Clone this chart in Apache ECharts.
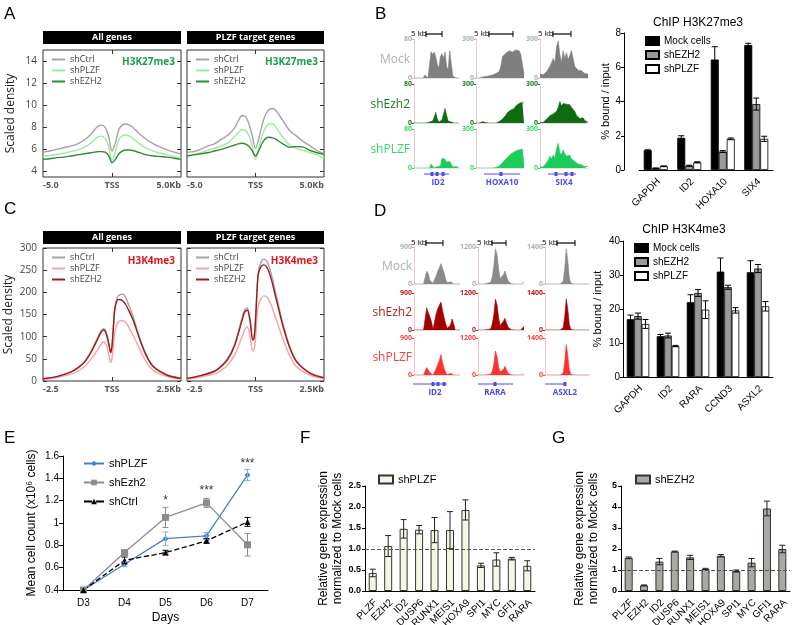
<!DOCTYPE html>
<html>
<head>
<meta charset="utf-8">
<script src="https://cdn.jsdelivr.net/npm/echarts@6.0.0/dist/echarts.min.js"></script>
<style>
html,body{margin:0;padding:0;background:#fff;}
#chart{width:792px;height:625px;}
</style>
</head>
<body>
<div id="chart"></div>
<script>
// ================= DATA =================
// Panel A: H3K27me3 metagene profiles (kb from TSS)
const profXA = [-5,-4.5,-4,-3.5,-3,-2.5,-2,-1.5,-1.25,-1,-0.75,-0.5,-0.25,0,0.25,0.5,0.75,1,1.25,1.5,2,2.5,3,3.5,4,4.5,5];
const aAllCtrl = [5.75,5.85,6.0,6.15,6.3,6.5,6.85,7.4,7.8,8.1,8.2,8.0,7.2,5.85,6.6,7.8,8.2,8.3,8.2,8.0,7.4,6.9,6.5,6.2,5.95,5.75,5.6];
const aAllPlzf = [5.4,5.45,5.55,5.65,5.8,5.95,6.2,6.6,6.9,7.15,7.2,7.0,6.3,5.0,5.8,6.9,7.25,7.3,7.2,7.0,6.5,6.1,5.85,5.65,5.5,5.35,5.25];
const aAllEzh2 = [5.1,5.15,5.25,5.3,5.4,5.5,5.6,5.7,5.75,5.8,5.8,5.75,5.45,4.8,5.1,5.6,5.85,5.95,5.95,5.9,5.7,5.5,5.4,5.35,5.3,5.2,5.1];
const aTgtCtrl = [5.75,5.8,6.0,6.3,6.5,6.9,7.3,8.0,8.6,9.05,9.0,8.4,7.3,6.1,7.0,8.3,9.2,9.6,9.7,9.5,8.6,7.7,7.2,6.7,6.3,5.9,5.6];
const aTgtPlzf = [5.45,5.55,5.7,5.9,6.1,6.3,6.6,7.2,7.5,7.8,7.75,7.3,6.4,5.1,6.2,7.3,8.0,8.3,8.3,8.0,7.1,6.4,6.1,5.9,5.7,5.5,5.2];
const aTgtEzh2 = [5.4,5.5,5.6,5.7,5.85,6.0,6.2,6.4,6.5,6.55,6.5,6.3,5.9,5.4,5.9,6.6,7.0,7.1,7.05,6.9,6.5,6.2,6.25,6.2,5.9,5.7,5.55];
const aTicksY = [4,6,8,10,12,14];

// Panel C: H3K4me3 metagene profiles
const profXC = [-2.5,-2,-1.5,-1.25,-1,-0.75,-0.5,-0.4,-0.3,-0.2,-0.1,-0.05,0,0.05,0.1,0.2,0.3,0.4,0.5,0.6,0.75,1,1.25,1.5,2,2.5];
const cAllCtrl = [5,10,20,30,44,68,100,113,118,108,80,66,80,125,165,190,195,196,188,172,148,98,58,33,14,6];
const cAllPlzf = [4,8,15,22,32,50,72,83,88,80,55,42,50,80,110,130,136,136,132,122,105,72,42,24,10,4];
const cAllEzh2 = [5,10,20,29,42,66,97,110,115,105,78,64,78,120,160,183,184,180,172,160,140,95,56,32,13,6];
const cTgtCtrl = [6,12,22,34,52,85,140,160,165,140,95,100,140,200,245,268,275,272,258,235,195,130,78,45,18,8];
const cTgtPlzf = [4,9,16,24,37,60,98,115,122,100,68,72,95,140,170,186,192,190,182,167,140,95,57,32,13,5];
const cTgtEzh2 = [6,12,22,33,50,82,135,155,160,136,92,97,135,195,240,258,262,258,245,224,186,124,75,43,17,7];
const cTicksY = [0,50,100,150,200,250,300];

// Panel B: H3K27me3 tracks (ID2 0-80, HOXA10 0-300, SIX4 0-300)
const bTrackMax = [80,300,300];
const bGeneNames = ['ID2','HOXA10','SIX4'];
const bMockID2 = [0,0,0,0,0,0,0,6,8,0,4,54,48,53,44,28,20,44,50,40,53,24,16,56,60,4,0,0,0,0];
const bEzhID2 = [0,0,0,0,0,0,0,0,0,0,2,4,4,12,22,8,2,4,6,10,30,16,4,6,2,2,0,1,0,0];
const bPlzfID2 = [0,0,0,0,0,0,0,0,0,0,0,8,4,0,1,3,0,4,20,16,18,12,8,14,8,2,0,3,1,0];
const bMockHOXA10 = [0,0,0,5,8,10,12,14,17,20,24,28,34,40,50,90,165,180,190,195,210,225,200,190,216,204,210,185,195,30];
const bEzhHOXA10 = [0,0,0,6,10,6,3,0,0,0,0,0,0,3,10,20,30,40,60,80,90,100,90,110,130,120,150,140,160,150];
const bPlzfHOXA10 = [0,0,0,0,0,0,0,0,0,0,0,0,3,8,15,25,40,55,70,85,95,105,115,125,130,135,140,150,145,20];
const bMockSIX4 = [30,15,25,40,50,60,90,105,150,120,240,285,180,120,210,150,195,140,130,210,150,90,75,60,45,55,40,35,50,30];
const bEzhSIX4 = [3,0,5,15,30,45,55,60,70,80,90,120,165,130,150,140,145,130,140,120,110,90,60,45,35,30,40,20,10,5];
const bPlzfSIX4 = [5,0,10,25,40,60,90,70,100,80,150,190,120,100,140,110,90,80,100,70,60,50,40,30,20,25,15,10,20,15];

// Panel B: ChIP H3K27me3 bars
const bGenes = ['GAPDH','ID2','HOXA10','SIX4'];
const bMock = [1.15,1.88,6.45,7.3];
const bMockErr = [0.03,0.12,0.75,0.1];
const bEzh2 = [0.1,0.25,1.08,3.85];
const bEzh2Err = [0.02,0.03,0.06,0.35];
const bPlzf = [0.22,0.45,1.82,1.82];
const bPlzfErr = [0.02,0.03,0.05,0.15];

// Panel D: H3K4me3 tracks (ID2 0-900, RARA 0-1200, ASXL2 0-1400)
const dTrackMax = [900,1200,1400];
const dGeneNames = ['ID2','RARA','ASXL2'];
const dMockID2 = [0,0,0,0,0,0,0,45,315,250,90,110,20,45,200,315,400,495,380,270,110,30,0,55,45,0,0,0,0,0];
const dEzhID2 = [0,0,0,0,0,0,0,40,540,420,330,200,20,60,400,520,600,680,480,300,150,40,0,120,270,150,0,0,0,0];
const dPlzfID2 = [0,0,0,0,0,0,0,20,180,120,60,50,0,20,150,260,350,500,300,160,60,10,0,40,30,0,0,0,0,0];
const dMockRARA = [0,0,0,0,0,0,24,24,60,240,600,1140,960,480,180,180,300,420,240,96,36,12,0,0,0,0,0,0,24,60];
const dEzhRARA = [0,0,0,0,0,0,20,40,30,200,500,1000,820,400,150,150,280,380,220,90,30,10,0,0,0,0,0,0,60,120];
const dPlzfRARA = [0,0,0,0,0,0,10,20,30,120,350,780,600,250,100,100,180,280,160,60,20,5,0,0,0,0,0,0,20,40];
const dMockASXL2 = [0,0,0,0,0,0,0,0,0,0,0,30,100,600,1330,900,250,40,10,0,0,0,0,0,0,0,0,0,0,0];
const dEzhASXL2 = [0,0,0,0,0,0,0,0,0,0,0,25,90,520,1180,800,220,30,8,0,0,0,0,0,0,0,0,0,0,0];
const dPlzfASXL2 = [0,0,0,0,0,0,0,0,0,0,0,20,80,500,1150,760,200,30,5,0,0,0,0,0,0,0,0,0,0,0];

// Panel D: ChIP H3K4me3 bars
const dGenes = ['GAPDH','ID2','RARA','CCND3','ASXL2'];
const dMock = [17,12,22,31,30.8];
const dMockErr = [1.2,0.5,2.2,4,3.4];
const dEzh2 = [17.9,12.2,24.7,26.4,31.9];
const dEzh2Err = [0.9,0.7,1.0,0.6,1.2];
const dPlzf = [15.6,9.1,19.8,19.6,20.8];
const dPlzfErr = [1.3,0.2,2.6,0.8,1.4];

// Panel E: cell counts
const eDays = ['D3','D4','D5','D6','D7'];
const ePlzf = [0.4,0.63,0.86,0.885,1.43];
const ePlzfErr = [0,0.02,0.06,0.03,0.05];
const eEzh2 = [0.4,0.735,1.05,1.18,0.805];
const eEzh2Err = [0,0.02,0.09,0.04,0.1];
const eCtrl = [0.4,0.665,0.735,0.84,1.01];
const eCtrlErr = [0,0.03,0.02,0.02,0.04];
const eSigDays = ['D5','D6','D7'];
const eSigY = [1.2,1.29,1.53];
const eSigText = ['*','***','***'];

// Panels F, G: relative expression
const fgGenes = ['PLZF','EZH2','ID2','DUSP6','RUNX1','MEIS1','HOXA9','SPI1','MYC','GFI1','RARA'];
const fPlzf = [0.43,1.07,1.48,1.46,1.45,1.45,1.93,0.61,0.75,0.77,0.6];
const fPlzfErr = [0.09,0.25,0.22,0.1,0.3,0.44,0.24,0.05,0.16,0.03,0.12];
const gEzh2 = [1.58,0.27,1.4,1.88,1.6,1.05,1.68,0.95,1.35,3.93,2.0];
const gEzh2Err = [0.04,0.02,0.15,0.02,0.1,0.03,0.06,0.05,0.2,0.35,0.18];

// ================= BUILD =================
const grids=[], xAxes=[], yAxes=[], series=[], legends=[], graphics=[];
const extraX=[], extraY=[], rotCats=[];
function addGrid(g,xa,ya){const i=grids.length;grids.push(g);xa.gridIndex=i;ya.gridIndex=i;xAxes.push(xa);yAxes.push(ya);return i;}
function T(x,y,text,st){graphics.push({type:'text',x:x,y:y,silent:true,style:Object.assign({text:text,fill:'#000',fontSize:12,fontFamily:'Liberation Sans',align:'left',verticalAlign:'middle'},st||{})});}
function R(x,y,w,h,fill,stroke){graphics.push({type:'rect',silent:true,shape:{x:x,y:y,width:w,height:h},style:{fill:fill,stroke:stroke||null,lineWidth:1}});}
function L(x1,y1,x2,y2,c,w){graphics.push({type:'line',silent:true,shape:{x1:x1,y1:y1,x2:x2,y2:y2},style:{stroke:c,lineWidth:w||1}});}
const strip = n => n.split('|')[1];

function errSeries(gi, vals, errs, off, cap, color, lw){
  return {type:'custom', xAxisIndex:gi, yAxisIndex:gi, silent:true, z:6,
    data: vals.map((v,i)=>[i,v,errs[i]]),
    renderItem:(p,api)=>{
      const i=api.value(0),v=api.value(1),e=api.value(2);
      if(!e) return null;
      const a=api.coord([i,v+e]), b=api.coord([i,v-e]); const x=a[0]+off;
      const st={stroke:color,lineWidth:lw||1};
      return {type:'group',children:[
        {type:'line',shape:{x1:x,y1:a[1],x2:x,y2:b[1]},style:st},
        {type:'line',shape:{x1:x-cap,y1:a[1],x2:x+cap,y2:a[1]},style:st},
        {type:'line',shape:{x1:x-cap,y1:b[1],x2:x+cap,y2:b[1]},style:st}]};
    }};
}

// ---------- profile panels (A, C) ----------
function profPanel(o){
  const gi = addGrid(
    {left:o.left, top:o.top, width:o.width, height:o.height, show:true, borderColor:'#333', borderWidth:1},
    {type:'value', min:o.xMin, max:o.xMax, axisLine:{show:false, onZero:false}, splitLine:{show:false},
     axisTick:{show:true, inside:true, length:4, customValues:[0], lineStyle:{color:'#333'}},
     axisLabel:{customValues:[o.xMin,0,o.xMax], formatter:v=>v===0?'TSS':(v<0?o.xMinLbl:o.xMaxLbl),
       alignMinLabel:'left', alignMaxLabel:'right', fontSize:9, fontWeight:'bold', color:'#555', fontFamily:'Open Sans', margin:4}},
    {type:'value', min:o.yMin, max:o.yMax, axisLine:{show:false, onZero:false}, splitLine:{show:false},
     axisTick:{show:true, inside:true, length:4, customValues:o.yTicks, lineStyle:{color:'#333'}},
     axisLabel:{show:o.showY, customValues:o.yTicks, fontSize:10, color:'#444', fontFamily:'Open Sans', margin:6},
     name:o.showY?'Scaled density':'', nameLocation:'middle', nameGap:o.nameGap||26,
     nameTextStyle:{fontSize:12, color:'#222', fontFamily:'Open Sans'}});
  extraX.push({gridIndex:gi, type:'value', position:'top', min:o.xMin, max:o.xMax, axisLine:{show:false, onZero:false}, splitLine:{show:false},
     axisLabel:{show:false}, axisTick:{show:true, inside:true, length:4, customValues:[0], lineStyle:{color:'#333'}}});
  extraY.push({gridIndex:gi, type:'value', position:'right', min:o.yMin, max:o.yMax, axisLine:{show:false, onZero:false}, splitLine:{show:false},
     axisLabel:{show:false}, axisTick:{show:true, inside:true, length:4, customValues:o.yTicks, lineStyle:{color:'#333'}}});
  o.curves.forEach((ys,k)=>{
    series.push({type:'line', name:o.key+'|'+o.names[k], xAxisIndex:gi, yAxisIndex:gi,
      data:o.xs.map((x,i)=>[x,ys[i]]), symbol:'none', smooth:0.3,
      lineStyle:{color:o.colors[k], width:1.4}, itemStyle:{color:o.colors[k]}, z:3+k});
  });
  legends.push({orient:'vertical', left:o.left+9, top:o.legTop, icon:'rect', itemWidth:13, itemHeight:2, itemGap:0, padding:0,
    selectedMode:false, data:o.names.map(n=>o.key+'|'+n), formatter:strip,
    textStyle:{fontSize:9, color:'#444', fontFamily:'Open Sans', lineHeight:11}});
  T(o.left+o.width-6, o.markY, o.mark, {fill:o.markColor, fontWeight:'bold', fontSize:10, fontFamily:'Open Sans', align:'right'});
}
const namesProf = ['shCtrl','shPLZF','shEZH2'];
const colA = ['#a3a3a3','#9fe89f','#2f8a35'];
const colC = ['#a3a3a3','#f7a3a3','#9e1a1a'];
profPanel({key:'A1', left:43, top:50, width:138, height:127, xs:profXA, curves:[aAllCtrl,aAllPlzf,aAllEzh2], names:namesProf, colors:colA,
  xMin:-5, xMax:5, xMinLbl:'-5.0', xMaxLbl:'5.0Kb', yMin:3.5, yMax:15, yTicks:aTicksY, showY:true, legTop:54, mark:'H3K27me3', markColor:'#1f9e45', markY:62});
profPanel({key:'A2', left:187, top:50, width:137, height:127, xs:profXA, curves:[aTgtCtrl,aTgtPlzf,aTgtEzh2], names:namesProf, colors:colA,
  xMin:-5, xMax:5, xMinLbl:'-5.0', xMaxLbl:'5.0Kb', yMin:3.5, yMax:15, yTicks:aTicksY, showY:false, legTop:54, mark:'H3K27me3', markColor:'#1f9e45', markY:62});
profPanel({key:'C1', left:43, top:248, width:138, height:133, xs:profXC, curves:[cAllCtrl,cAllPlzf,cAllEzh2], names:namesProf, colors:colC,
  xMin:-2.5, xMax:2.5, xMinLbl:'-2.5', xMaxLbl:'2.5Kb', yMin:0, yMax:300, yTicks:cTicksY, showY:true, nameGap:28, legTop:252, mark:'H3K4me3', markColor:'#e0141c', markY:261});
profPanel({key:'C2', left:187, top:248, width:137, height:133, xs:profXC, curves:[cTgtCtrl,cTgtPlzf,cTgtEzh2], names:namesProf, colors:colC,
  xMin:-2.5, xMax:2.5, xMinLbl:'-2.5', xMaxLbl:'2.5Kb', yMin:0, yMax:300, yTicks:cTicksY, showY:false, legTop:252, mark:'H3K4me3', markColor:'#e0141c', markY:261});
// strip headers
[[43,31,138,'All genes'],[187,31,137,'PLZF target genes'],[43,231,138,'All genes'],[187,231,137,'PLZF target genes']].forEach(s=>{
  R(s[0],s[1],s[2],13,'#000'); T(s[0]+s[2]/2,s[1]+6.5,s[3],{fill:'#fff',fontWeight:'bold',fontSize:9,fontFamily:'Open Sans',align:'center'});
});

// ---------- track panels (B, D) ----------
function trackPanel(o){
  o.rowTops.forEach((t,r)=>o.cols.forEach((l,c)=>{
    const gi = addGrid({left:l, top:t, width:o.colW[c], height:o.rowH},
      {type:'value', min:0, max:29, axisLine:{show:true, onZero:false, lineStyle:{color:'#e2e2e2', width:1}}, axisTick:{show:false}, axisLabel:{show:false}, splitLine:{show:false}},
      {type:'value', min:0, max:o.maxes[c], interval:o.maxes[c], axisLine:{show:true, onZero:false, lineStyle:{color:'#f6c4c4', width:1}},
       axisTick:{show:true, length:2, lineStyle:{color:o.lblColors[r]}},
       axisLabel:{fontSize:7, fontWeight:'bold', color:o.lblColors[r], margin:2, fontFamily:'Open Sans', formatter:v=>String(v)}, splitLine:{show:false}});
    series.push({type:'line', xAxisIndex:gi, yAxisIndex:gi, data:o.data[r][c].map((v,i)=>[i,v]), symbol:'none', silent:true,
      lineStyle:{width:0.6, color:o.fills[r]}, areaStyle:{color:o.fills[r], opacity:1}, z:2});
  }));
  o.rowNames.forEach((n,r)=>T(o.rowLblX, o.rowTops[r]+o.rowLblDy, n, {fill:o.lblColors[r], fontSize:12, fontFamily:'Open Sans', align:'right'}));
}
trackPanel({cols:[414,476,540], colW:[45,48,48], rowTops:[39,84,129], rowH:39, maxes:bTrackMax,
  data:[[bMockID2,bMockHOXA10,bMockSIX4],[bEzhID2,bEzhHOXA10,bEzhSIX4],[bPlzfID2,bPlzfHOXA10,bPlzfSIX4]],
  fills:['#7f7f7f','#0f6b0f','#1ccc5a'], lblColors:['#b0b0b0','#1f7a1f','#35d868'], rowNames:['Mock','shEzh2','shPLZF'], rowLblX:410, rowLblDy:21});
trackPanel({cols:[414,478,545], colW:[46,46,44], rowTops:[247,293,338], rowH:37, maxes:dTrackMax,
  data:[[dMockID2,dMockRARA,dMockASXL2],[dEzhID2,dEzhRARA,dEzhASXL2],[dPlzfID2,dPlzfRARA,dPlzfASXL2]],
  fills:['#8a8a8a','#a50000','#ff3030'], lblColors:['#b0b0b0','#b02020','#ff4040'], rowNames:['Mock','shEzh2','shPLZF'], rowLblX:412, rowLblDy:20});
// scale bars
function scaleBar(tx,y,x1,x2){T(tx,y,'5 kb',{fontSize:8,fontFamily:'Open Sans',fill:'#000'});L(x1,y,x2,y,'#000',1.2);L(x1,y-3,x1,y+3,'#000',1);L(x2,y-3,x2,y+3,'#000',1);}
scaleBar(411,34,426,442); scaleBar(474,34,489,513); scaleBar(538,34,553,571);
scaleBar(411,243,426,443); scaleBar(477,243,492,506); scaleBar(542,243,557,575);
// gene models
const geneBlue = '#4a4ae8';
function geneModel(x1,x2,y,boxes,label,lx,ly){L(x1,y,x2,y,geneBlue,1);boxes.forEach(b=>R(b-1.5,y-2,3,4,geneBlue));T(lx,ly,label,{fill:geneBlue,fontSize:8,fontWeight:'bold',fontFamily:'Open Sans',align:'center'});}
geneModel(424,449,174,[432,437,443],bGeneNames[0],438,183);
geneModel(484,520,174,[501],bGeneNames[1],502,183);
geneModel(548,576,174,[556,566,572],bGeneNames[2],564,183);
geneModel(413,447,384,[433,438,444],dGeneNames[0],435,393);
geneModel(478,513,384,[495],dGeneNames[1],495,393);
geneModel(545,566,384,[565],dGeneNames[2],565,393);

// ---------- grouped ChIP bars (B, D) ----------
function groupedBar(o){
  const gi = addGrid({left:o.left, top:o.top, width:o.width, height:o.height},
    {type:'category', data:o.cats, axisLine:{onZero:false, lineStyle:{color:'#000'}}, axisTick:{alignWithLabel:true, length:3, lineStyle:{color:'#000'}},
     axisLabel:{show:false}},
    {type:'value', min:0, max:o.yMax, interval:o.yInt, offset:o.yOffset||0, axisLine:{show:true, onZero:false, lineStyle:{color:'#000'}},
     axisTick:{show:true, length:3, lineStyle:{color:'#000'}}, axisLabel:{fontSize:10, color:'#000', margin:3, fontFamily:'Liberation Sans'},
     splitLine:{show:false}, name:'% bound / input', nameLocation:'middle', nameGap:o.nameGap,
     nameTextStyle:{fontSize:11, color:'#000', fontFamily:'Liberation Sans'}});
  rotCats.push([gi, o.cats]);
  const fills=['#000','#9a9a9a','#fff'];
  o.vals.forEach((vals,k)=>series.push({type:'bar', name:o.key+'|'+o.names[k], xAxisIndex:gi, yAxisIndex:gi, data:vals,
    barWidth:o.bw, barGap:'0%', itemStyle:{color:fills[k], borderColor:'#000', borderWidth:0.8}}));
  o.vals.forEach((vals,k)=>series.push(errSeries(gi, vals, o.errs[k], (k-1)*o.bw, 3, '#000', 1)));
  legends.push({orient:'vertical', left:o.legLeft, top:o.legTop, icon:'rect', itemWidth:13, itemHeight:8, itemGap:2, padding:0, selectedMode:false,
    data:o.names.map(n=>o.key+'|'+n), formatter:strip, textStyle:{fontSize:10, color:'#000', fontFamily:'Liberation Sans', lineHeight:12}});
  T(o.titleX, o.titleY, o.title, {fontSize:12, align:'center', fontFamily:'Liberation Sans'});
}
const chipNames = ['Mock cells','shEZH2','shPLZF'];
groupedBar({key:'BB', left:639, top:33, width:134, height:137, yOffset:15, cats:bGenes, yMax:8, yInt:2, nameGap:8, bw:8,
  vals:[bMock,bEzh2,bPlzf], errs:[bMockErr,bEzh2Err,bPlzfErr], names:chipNames, legLeft:645, legTop:35, title:'ChIP H3K27me3', titleX:698, titleY:23});
groupedBar({key:'DB', left:623, top:241, width:150, height:136, cats:dGenes, yMax:40, yInt:10, nameGap:20, bw:7.5,
  vals:[dMock,dEzh2,dPlzf], errs:[dMockErr,dEzh2Err,dPlzfErr], names:chipNames, legLeft:634, legTop:242, title:'ChIP H3K4me3', titleX:684, titleY:230});

// ---------- E: growth curves ----------
const eGi = addGrid({left:63, top:456, width:205, height:135},
  {type:'category', data:eDays, axisLine:{onZero:false, lineStyle:{color:'#000'}}, axisTick:{length:4, lineStyle:{color:'#000'}},
   axisLabel:{fontSize:10, color:'#000', margin:8, fontFamily:'Liberation Sans'},
   name:'Days', nameLocation:'middle', nameGap:22, nameTextStyle:{fontSize:12, color:'#000', fontFamily:'Liberation Sans'}},
  {type:'value', min:0.4, max:1.6, interval:0.2, axisLine:{show:true, onZero:false, lineStyle:{color:'#000'}}, axisTick:{show:true, length:4, lineStyle:{color:'#000'}},
   axisLabel:{fontSize:10, color:'#000', margin:4, fontFamily:'Liberation Sans', formatter:v=>String(Math.round(v*10)/10)}, splitLine:{show:false},
   name:'Mean cell count (x10\u2076 cells)', nameLocation:'middle', nameGap:25, nameTextStyle:{fontSize:12, color:'#000', fontFamily:'Liberation Sans'}});
const eSer = [
  {n:'shPLZF', v:ePlzf, e:ePlzfErr, c:'#4a7fc3', ec:'#7fb0e6', s:'diamond', ss:6, dash:'solid'},
  {n:'shEzh2', v:eEzh2, e:eEzh2Err, c:'#8c8c8c', ec:'#8c8c8c', s:'rect', ss:7, dash:'solid'},
  {n:'shCtrl', v:eCtrl, e:eCtrlErr, c:'#000', ec:'#000', s:'triangle', ss:6, dash:'dashed'}];
eSer.forEach(s=>{
  series.push({type:'line', name:'E|'+s.n, xAxisIndex:eGi, yAxisIndex:eGi, data:s.v, symbol:s.s, symbolSize:s.ss, showAllSymbol:true,
    lineStyle:{color:s.c, width:1.3, type:s.dash}, itemStyle:{color:s.c}, z:4});
  series.push(errSeries(eGi, s.v, s.e, 0, 3, s.ec, 1));
});
series.push({type:'scatter', xAxisIndex:eGi, yAxisIndex:eGi, silent:true, symbolSize:0,
  data:eSigDays.map((d,i)=>[eDays.indexOf(d), eSigY[i]]), itemStyle:{color:'rgba(0,0,0,0)'},
  label:{show:true, position:'inside', formatter:p=>eSigText[p.dataIndex], fontSize:12, color:'#000', fontFamily:'Liberation Sans'}});
legends.push({orient:'vertical', left:83, top:457, itemWidth:20, itemHeight:7, itemGap:6, padding:0, selectedMode:false,
  data:eSer.map(s=>'E|'+s.n), formatter:strip, textStyle:{fontSize:11, color:'#000', fontFamily:'Liberation Sans', lineHeight:13}});

// ---------- F, G: expression bars ----------
function exprBar(o){
  const gi = addGrid({left:o.left, top:486, width:o.width, height:105},
    {type:'category', data:fgGenes, axisLine:{onZero:false, lineStyle:{color:'#000'}}, axisTick:{alignWithLabel:true, length:3, lineStyle:{color:'#000'}},
     axisLabel:{show:false}},
    {type:'value', min:0, max:o.yMax, interval:o.yInt, axisLine:{show:true, onZero:false, lineStyle:{color:'#000'}}, axisTick:{show:true, length:3, lineStyle:{color:'#000'}},
     axisLabel:{fontSize:9, fontWeight:'bold', color:'#000', margin:4, fontFamily:'Liberation Sans', formatter:o.fmt}, splitLine:{show:false},
     name:'Relative gene expression\nnormalized to Mock cells', nameLocation:'middle', nameGap:o.nameGap,
     nameTextStyle:{fontSize:12, color:'#000', fontFamily:'Liberation Sans', lineHeight:14}});
  rotCats.push([gi, fgGenes]);
  series.push({type:'bar', name:o.key+'|'+o.name, xAxisIndex:gi, yAxisIndex:gi, data:o.vals, barWidth:8,
    itemStyle:{color:o.fill, borderColor:'#333', borderWidth:1},
    markLine:{silent:true, symbol:'none', label:{show:false}, lineStyle:{type:'dashed', color:'#555', width:1}, data:[{yAxis:1}]}});
  series.push(errSeries(gi, o.vals, o.errs, 0, 3, '#222', 1));
  legends.push({left:o.legLeft, top:474, icon:'rect', itemWidth:14, itemHeight:8, padding:0, selectedMode:false,
    data:[o.key+'|'+o.name], formatter:strip, textStyle:{fontSize:11, color:'#000', fontFamily:'Liberation Sans'}});
}
exprBar({key:'F', left:365, width:170, yMax:2.5, yInt:0.5, fmt:v=>v.toFixed(1), nameGap:20, vals:fPlzf, errs:fPlzfErr, name:'shPLZF', fill:'#f7f5e4', legLeft:378});
exprBar({key:'G', left:621, width:169, yMax:5, yInt:1, fmt:v=>String(v), nameGap:20, vals:gEzh2, errs:gEzh2Err, name:'shEZH2', fill:'#a9a9a3', legLeft:635});

// panel letters
[['A',4,14],['B',375,14],['C',4,209],['D',374,211],['E',4,438],['F',300,438],['G',552,438]].forEach(p=>T(p[1],p[2],p[0],{fontSize:17,fontFamily:'Liberation Sans'}));

const chart = echarts.init(document.getElementById('chart'), null, {renderer:'canvas', width:792, height:625});
chart.setOption({animation:false, backgroundColor:'#fff', grid:grids, xAxis:xAxes.concat(extraX), yAxis:yAxes.concat(extraY),
  series:series, legend:legends, graphic:{elements:graphics}});

// 45-degree category labels placed at each category tick (positions from the axis scale)
const rotLabels = [];
rotCats.forEach(([gi,cats])=>cats.forEach((c,i)=>{
  const p = chart.convertToPixel({xAxisIndex:gi, yAxisIndex:gi}, [i, 0]);
  rotLabels.push({type:'text', x:p[0]+3, y:p[1]+10, rotation:Math.PI/4, silent:true,
    style:{text:c, fontSize:10, fontFamily:'Liberation Sans', fill:'#000', align:'right', verticalAlign:'middle'}});
}));
chart.setOption({graphic:{elements:graphics.concat(rotLabels)}});
</script>
</body>
</html>
